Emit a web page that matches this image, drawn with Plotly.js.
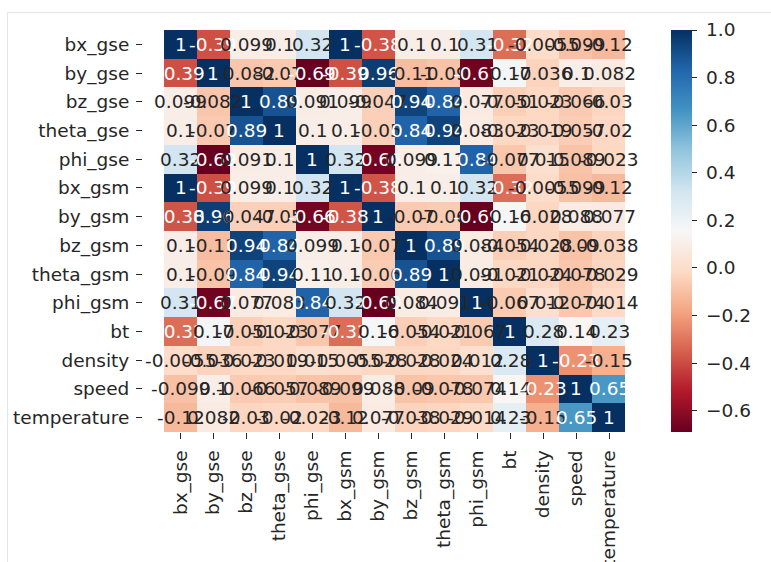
<!DOCTYPE html>
<html><head><meta charset="utf-8">
<script src="https://cdn.plot.ly/plotly-3.0.1.min.js"></script>
<style>
html,body{margin:0;padding:0;background:#fff;overflow:hidden;}
#chart{position:absolute;left:0;top:0;width:771px;height:562px;}
#frame{position:absolute;left:7px;top:12px;width:770px;height:560px;border-left:1px solid #e6e6e6;border-top:1px solid #e6e6e6;pointer-events:none;}
</style></head><body>
<div id="chart"></div><div id="frame"></div>
<script>
const labels = ["bx_gse","by_gse","bz_gse","theta_gse","phi_gse","bx_gsm","by_gsm","bz_gsm","theta_gsm","phi_gsm","bt","density","speed","temperature"];

const bx_gse      = [1, -0.39, 0.099, 0.1, 0.32, 1, -0.38, 0.1, 0.1, 0.31, -0.32, -0.0055, -0.099, -0.12];
const by_gse      = [-0.39, 1, -0.082, -0.07, -0.69, -0.39, 0.96, -0.11, -0.09, -0.67, 0.17, -0.036, 0.1, 0.082];
const bz_gse      = [0.099, -0.082, 1, 0.89, 0.091, 0.099, -0.047, 0.94, 0.84, 0.077, -0.051, -0.023, -0.066, -0.03];
const theta_gse   = [0.1, -0.07, 0.89, 1, 0.1, 0.1, -0.05, 0.84, 0.94, 0.083, -0.023, -0.019, -0.057, -0.02];
const phi_gse     = [0.32, -0.69, 0.091, 0.1, 1, 0.32, -0.66, 0.099, 0.11, 0.84, -0.077, 0.015, -0.089, -0.023];
const bx_gsm      = [1, -0.39, 0.099, 0.1, 0.32, 1, -0.38, 0.1, 0.1, 0.32, -0.32, -0.0055, -0.099, -0.12];
const by_gsm      = [-0.38, 0.96, -0.047, -0.05, -0.66, -0.38, 1, -0.07, -0.06, -0.69, 0.16, -0.028, 0.088, 0.077];
const bz_gsm      = [0.1, -0.11, 0.94, 0.84, 0.099, 0.1, -0.07, 1, 0.89, 0.084, -0.054, -0.028, -0.09, -0.038];
const theta_gsm   = [0.1, -0.09, 0.84, 0.94, 0.11, 0.1, -0.06, 0.89, 1, 0.091, -0.021, -0.024, -0.078, -0.029];
const phi_gsm     = [0.31, -0.67, 0.077, 0.083, 0.84, 0.32, -0.69, 0.084, 0.091, 1, -0.067, 0.012, -0.074, -0.014];
const bt          = [-0.32, 0.17, -0.051, -0.023, -0.077, -0.32, 0.16, -0.054, -0.021, -0.067, 1, 0.28, 0.14, 0.23];
const density     = [-0.0055, -0.036, -0.023, -0.019, 0.015, -0.0055, -0.028, -0.028, -0.024, 0.012, 0.28, 1, -0.23, -0.15];
const speed       = [-0.099, 0.1, -0.066, -0.057, -0.089, -0.099, 0.088, -0.09, -0.078, -0.074, 0.14, -0.23, 1, 0.65];
const temperature = [-0.12, 0.082, -0.03, -0.02, -0.023, -0.12, 0.077, -0.038, -0.029, -0.014, 0.23, -0.15, 0.65, 1];

const cbTickVals = [1.0, 0.8, 0.6, 0.4, 0.2, 0.0, -0.2, -0.4, -0.6];
const cbTickText = ["1.0", "0.8", "0.6", "0.4", "0.2", "0.0", "\u22120.2", "\u22120.4", "\u22120.6"];

const z = [bx_gse, by_gse, bz_gse, theta_gse, phi_gse, bx_gsm, by_gsm, bz_gsm, theta_gsm, phi_gsm, bt, density, speed, temperature];

const rdbu = ["#67001f","#b2182b","#d6604d","#f4a582","#fddbc7","#f7f7f7","#d1e5f0","#92c5de","#4393c3","#2166ac","#053061"];
const colorscale = rdbu.map((c, i) => [i / (rdbu.length - 1), c]);

let zmin = Infinity, zmax = -Infinity;
z.forEach(r => r.forEach(v => { zmin = Math.min(zmin, v); zmax = Math.max(zmax, v); }));

function hex2rgb(h) { return [1,3,5].map(k => parseInt(h.substr(k, 2), 16)); }
function colorAt(v) {
  let f = (v - zmin) / (zmax - zmin);
  f = Math.max(0, Math.min(1, f)) * (rdbu.length - 1);
  const i = Math.min(Math.floor(f), rdbu.length - 2);
  const t = f - i;
  const a = hex2rgb(rdbu[i]), b = hex2rgb(rdbu[i + 1]);
  return a.map((x, k) => x + (b[k] - x) * t);
}
function lum(rgb) {
  const lin = rgb.map(c => { c /= 255; return c <= 0.03928 ? c / 12.92 : Math.pow((c + 0.055) / 1.055, 2.4); });
  return 0.2126 * lin[0] + 0.7152 * lin[1] + 0.0722 * lin[2];
}
function fmt(v) { return String(Number(v.toPrecision(2))); }

const FONT = "DejaVu Sans";
const FS = 18.5;
const annotations = [];
z.forEach((row, i) => row.forEach((v, j) => {
  const l = lum(colorAt(v));
  annotations.push({
    x: labels[j], y: labels[i], xref: "x", yref: "y",
    text: fmt(v), showarrow: false,
    font: { family: FONT, size: FS, color: l > 0.408 ? "#262626" : "#ffffff" }
  });
}));

const trace = {
  type: "heatmap",
  z: z, x: labels, y: labels,
  colorscale: colorscale, zmin: zmin, zmax: zmax,
  hoverinfo: "skip",
  colorbar: {
    x: 1.0602, xanchor: "left", xref: "paper",
    y: 0.5, yanchor: "middle", len: 1, lenmode: "fraction",
    thickness: 21, thicknessmode: "pixels",
    xpad: 0, ypad: 0, outlinewidth: 0,
    tickvals: cbTickVals, ticktext: cbTickText.map(t => "\u00a0" + t),
    ticks: "outside", ticklen: 5, tickwidth: 1, tickcolor: "#262626",
    tickfont: { family: FONT, size: FS, color: "#262626" }
  }
};

const layout = {
  width: 771, height: 562,
  margin: { l: 143, r: 130, t: 30, b: 130, pad: 0 },
  paper_bgcolor: "#ffffff", plot_bgcolor: "#ffffff",
  font: { family: FONT, size: FS, color: "#262626" },
  xaxis: {
    type: "category", tickangle: -90, ticks: "outside", ticklen: 6, tickwidth: 1, tickcolor: "#262626",
    showgrid: false, zeroline: false, showline: false,
    tickfont: { family: FONT, size: FS, color: "#262626" }, ticklabelstandoff: 4
  },
  yaxis: {
    type: "category", autorange: "reversed", ticks: "outside", ticklen: 6, tickwidth: 1, tickcolor: "#262626",
    showgrid: false, zeroline: false, showline: false,
    tickfont: { family: FONT, size: FS, color: "#262626" }, ticklabelstandoff: 3
  },
  annotations: annotations
};

Plotly.newPlot("chart", [trace], layout, { staticPlot: true, displayModeBar: false });
</script>
</body></html>
